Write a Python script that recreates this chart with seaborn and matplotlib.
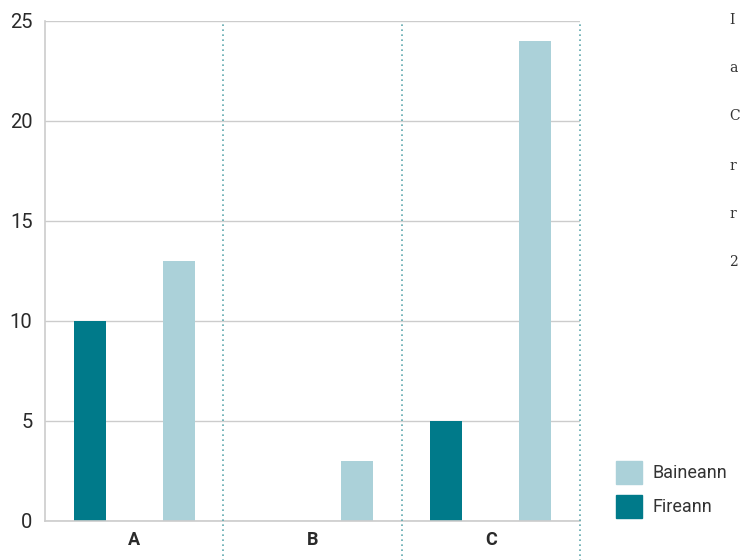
import seaborn as sns
import matplotlib.pyplot as plt
import pandas as pd
from matplotlib.patches import Patch

categories = ["A", "B", "C"]
fireann = [10, 0, 5]
baineann = [13, 3, 24]
series = ["Fireann", "Baineann"]
colors = {"Fireann": "#007A8A", "Baineann": "#ABD1D9"}
y_ticks = [0, 5, 10, 15, 20, 25]

df = pd.DataFrame({
    "cat": categories * 2,
    "value": fireann + baineann,
    "sex": ["Fireann"] * 3 + ["Baineann"] * 3,
})

sns.set_style("white")
plt.rcParams["font.family"] = ["Roboto", "DejaVu Sans"]

fig = plt.figure(figsize=(7.4, 5.6), dpi=100)
ax = fig.add_axes([45 / 740, 39 / 560, 535 / 740, 500 / 560])

sns.barplot(data=df, x="cat", y="value", hue="sex", hue_order=series,
            palette=colors, width=1.0, gap=0.64, saturation=1,
            linewidth=0, legend=False, ax=ax)

ax.set_xlim(-0.5, 2.5)
ax.set_ylim(0, 25)
ax.set_yticks(y_ticks)
ax.set_yticklabels([str(t) for t in y_ticks], fontsize=14.5, color="#2a2a2a")
ax.set_xticks(range(len(categories)))
ax.set_xticklabels(categories, fontsize=13, fontweight="bold", color="#2a2a2a")
ax.tick_params(axis="y", length=0, pad=9)
ax.tick_params(axis="x", length=0, pad=7)
ax.set_xlabel("")
ax.set_ylabel("")
ax.yaxis.grid(True, color="#cccccc", linewidth=1)
ax.set_axisbelow(True)

for side in ["top", "right"]:
    ax.spines[side].set_visible(False)
for side in ["left", "bottom"]:
    ax.spines[side].set_color("#cccccc")
    ax.spines[side].set_linewidth(1.2)

# dotted separators between categories, running down past the axis
for x in [0.5, 1.5, 2.5]:
    ax.plot([x, x], [-2, 25], color="#5FA8AE", linestyle=(0, (1, 2)),
            linewidth=1.2, clip_on=False, zorder=3)

handles = [Patch(color=colors["Baineann"], label="Baineann"),
           Patch(color=colors["Fireann"], label="Fireann")]
fig.legend(handles=handles, loc="lower left", bbox_to_anchor=(600 / 740, 26 / 560),
           frameon=False, handlelength=1.4, handleheight=1.6,
           handletextpad=0.6, labelspacing=0.6, labelcolor="#333333",
           prop={"family": "Roboto", "size": 13})

# text at the right edge
for y, s in zip([20, 68, 116, 166, 214, 262], ["I", "a", "C", "r", "r", "2"]):
    fig.text(729 / 740, 1 - y / 560, s, fontsize=10, family="DejaVu Serif",
             color="#333333", va="center", ha="left")

fig.savefig("out.png", dpi=100)
